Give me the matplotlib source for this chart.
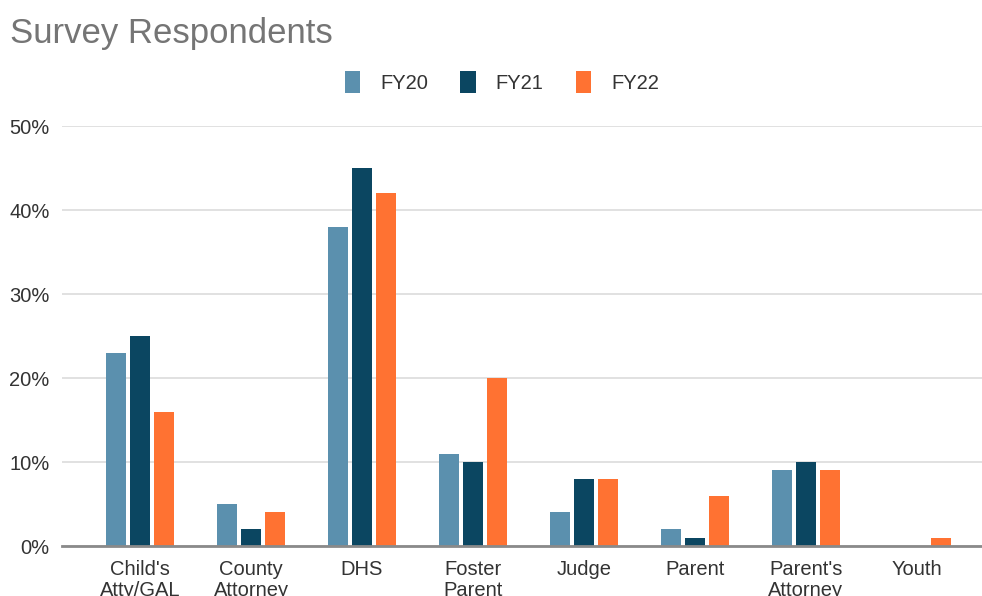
import matplotlib.pyplot as plt
from matplotlib.patches import Patch
import numpy as np

plt.rcParams["font.family"] = ["Liberation Sans", "DejaVu Sans"]

categories = ["Child's\nAtty/GAL", "County\nAttorney", "DHS", "Foster\nParent",
              "Judge", "Parent", "Parent's\nAttorney", "Youth"]
series_names = ["FY20", "FY21", "FY22"]
fy20 = [23, 5, 38, 11, 4, 2, 9, 0]
fy21 = [25, 2, 45, 10, 8, 1, 10, 0]
fy22 = [16, 4, 42, 20, 8, 6, 9, 1]
y_ticks = [0, 10, 20, 30, 40, 50]
y_tick_labels = ["0%", "10%", "20%", "30%", "40%", "50%"]

COLORS = ["#5b90ae", "#0b4661", "#ff7232"]
GRID_COLOR = "#d9d9d9"
TEXT_COLOR = "#333333"


def main():
    fig = plt.figure(figsize=(9.82, 5.96), dpi=100)
    fig.patch.set_facecolor("white")
    ax = fig.add_axes([62 / 982, 50 / 596, 920 / 982, 420 / 596])

    x = np.arange(len(categories))
    step = 0.216
    width = 0.18
    for i, (vals, color, name) in enumerate(zip([fy20, fy21, fy22], COLORS, series_names)):
        ax.bar(x + (i - 1) * step, vals, width=width, color=color, label=name, zorder=3)

    ax.set_xlim(-0.703, 7.586)
    ax.set_ylim(0, 50)
    ax.set_yticks(y_ticks)
    ax.set_yticklabels(y_tick_labels, fontsize=14.5, color=TEXT_COLOR)
    ax.set_xticks(x)
    ax.set_xticklabels(categories, fontsize=14.5, color=TEXT_COLOR, linespacing=1.15)
    ax.tick_params(axis="both", length=0)
    ax.tick_params(axis="y", pad=9)
    ax.tick_params(axis="x", pad=10)

    ax.grid(axis="y", color=GRID_COLOR, linewidth=1.1, zorder=0)
    for side in ["top", "right", "left"]:
        ax.spines[side].set_visible(False)
    ax.spines["bottom"].set_color("#8a8a8a")
    ax.spines["bottom"].set_linewidth(2)
    ax.spines["bottom"].set_zorder(4)

    fig.text(10 / 982, 1 - 34 / 596, "Survey Respondents", fontsize=25,
             color="#757575", ha="left", va="center")

    handles = [Patch(facecolor=c, edgecolor="none") for c in COLORS]
    fig.legend(handles, series_names, loc="center", bbox_to_anchor=(502 / 982, 1 - 82 / 596),
               ncol=3, frameon=False, fontsize=14.5, handlelength=0.75, handleheight=1.3,
               handletextpad=1.0, columnspacing=1.6, labelcolor=TEXT_COLOR)

    fig.savefig("out.png", dpi=100)


if __name__ == "__main__":
    main()
